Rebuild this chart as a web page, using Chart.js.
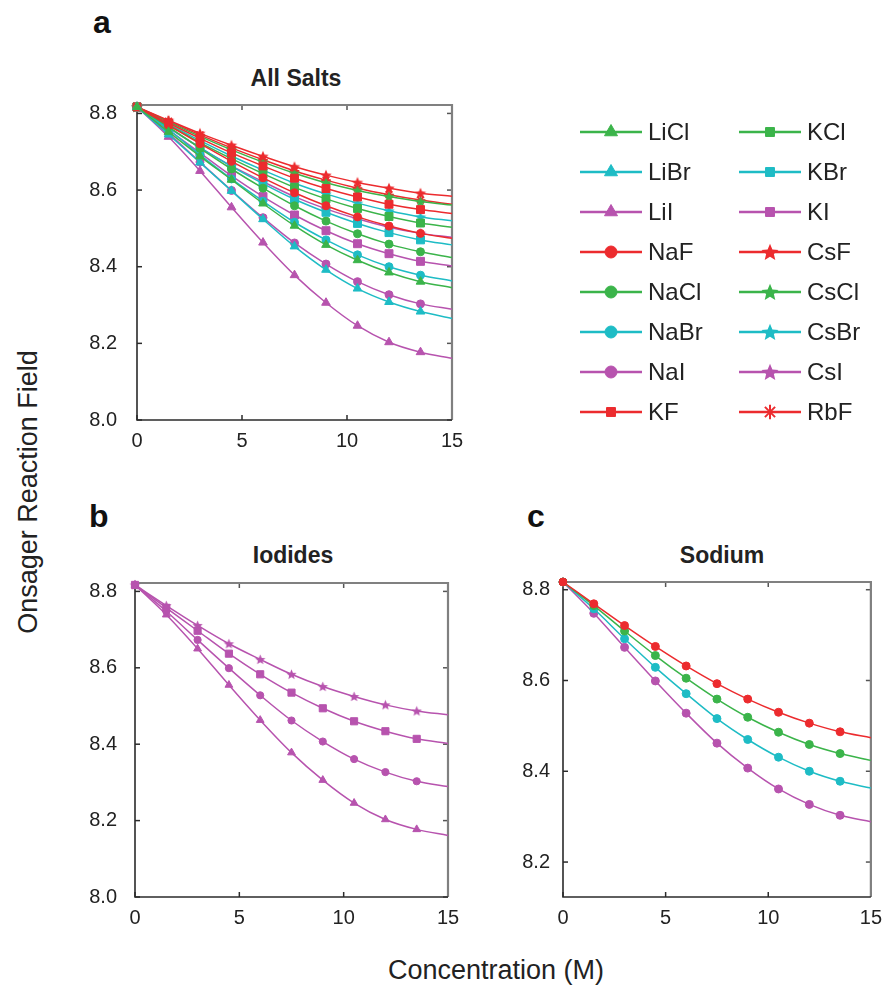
<!DOCTYPE html>
<html>
<head>
<meta charset="utf-8">
<script src="https://cdn.jsdelivr.net/npm/chart.js@4.4.1/dist/chart.umd.min.js"></script>
<style>
  html, body { margin: 0; padding: 0; background: #fff; }
  body {
    width: 891px; height: 990px; position: relative; overflow: hidden;
    font-family: "Liberation Sans", Arial, sans-serif; color: #222;
  }
  canvas { position: absolute; }
  .abs { position: absolute; white-space: nowrap; line-height: 1; }
  .letter { font-weight: bold; font-size: 32px; color: #111; }
  .title { font-weight: bold; font-size: 23px; transform: translate(-50%, -50%); }
  .axis-title { font-size: 27px; transform: translate(-50%, -50%); }
</style>
</head>
<body>
<div class="abs letter" style="left:93px; top:6px;">a</div>
<div class="abs letter" style="left:89px; top:500px;">b</div>
<div class="abs letter" style="left:527px; top:500px;">c</div>
<div class="abs title" style="left:296px; top:78px;">All Salts</div>
<div class="abs title" style="left:293px; top:555px;">Iodides</div>
<div class="abs title" style="left:722px; top:555px;">Sodium</div>
<div class="abs axis-title" style="left:28px; top:492px; transform:translate(-50%,-50%) rotate(-90deg);">Onsager Reaction Field</div>
<div class="abs axis-title" style="left:496px; top:970px;">Concentration (M)</div>

<canvas id="chart-all" width="891" height="470" style="left:0; top:0;"></canvas>
<canvas id="chart-iodides" width="470" height="460" style="left:0; top:480px;"></canvas>
<canvas id="chart-sodium" width="421" height="460" style="left:470px; top:480px;"></canvas>

<script>
// concentration (M) at which each curve was sampled
const concentration = [0, 1.5, 3, 4.5, 6, 7.5, 9, 10.5, 12, 13.5, 15];
const xTicks = [0, 5, 10, 15];
const yTicksFull = [8.0, 8.2, 8.4, 8.6, 8.8];
const yTicksSodium = [8.2, 8.4, 8.6, 8.8];

// Onsager reaction field per salt
const liCl = [8.817, 8.752, 8.688, 8.627, 8.565, 8.507, 8.457, 8.417, 8.385, 8.361, 8.345];
const liBr = [8.817, 8.745, 8.672, 8.598, 8.524, 8.453, 8.392, 8.343, 8.308, 8.283, 8.265];
const liI = [8.817, 8.739, 8.650, 8.555, 8.463, 8.378, 8.306, 8.246, 8.203, 8.177, 8.161];
const naF = [8.817, 8.769, 8.721, 8.675, 8.632, 8.593, 8.559, 8.530, 8.506, 8.487, 8.474];
const naCl = [8.817, 8.765, 8.709, 8.655, 8.605, 8.559, 8.519, 8.486, 8.459, 8.439, 8.424];
const naBr = [8.817, 8.758, 8.692, 8.629, 8.571, 8.516, 8.470, 8.431, 8.400, 8.378, 8.363];
const naI = [8.817, 8.748, 8.673, 8.599, 8.528, 8.462, 8.407, 8.361, 8.327, 8.303, 8.289];
const kF = [8.817, 8.775, 8.735, 8.697, 8.663, 8.631, 8.604, 8.582, 8.563, 8.549, 8.539];
const kCl = [8.817, 8.770, 8.724, 8.682, 8.643, 8.607, 8.577, 8.552, 8.531, 8.514, 8.503];
const kBr = [8.817, 8.763, 8.711, 8.662, 8.617, 8.576, 8.542, 8.513, 8.489, 8.470, 8.457];
const kI = [8.817, 8.757, 8.697, 8.637, 8.583, 8.535, 8.494, 8.460, 8.434, 8.414, 8.402];
const csF = [8.817, 8.782, 8.748, 8.717, 8.688, 8.661, 8.639, 8.620, 8.605, 8.592, 8.584];
const csCl = [8.817, 8.778, 8.740, 8.705, 8.673, 8.644, 8.619, 8.599, 8.583, 8.570, 8.561];
const csBr = [8.817, 8.772, 8.729, 8.689, 8.652, 8.618, 8.590, 8.566, 8.546, 8.530, 8.520];
const csI = [8.817, 8.763, 8.711, 8.663, 8.622, 8.583, 8.551, 8.525, 8.503, 8.487, 8.477];
const rbF = [8.817, 8.780, 8.744, 8.710, 8.679, 8.650, 8.626, 8.605, 8.588, 8.574, 8.563];

const saltNames = ["LiCl", "LiBr", "LiI", "NaF", "NaCl", "NaBr", "NaI", "KF",
                   "KCl", "KBr", "KI", "CsF", "CsCl", "CsBr", "CsI", "RbF"];
const saltValues = {
  LiCl: liCl, LiBr: liBr, LiI: liI, NaF: naF, NaCl: naCl, NaBr: naBr, NaI: naI, KF: kF,
  KCl: kCl, KBr: kBr, KI: kI, CsF: csF, CsCl: csCl, CsBr: csBr, CsI: csI, RbF: rbF,
};
const iodideNames = ["CsI", "KI", "NaI", "LiI"];
const sodiumNames = ["NaF", "NaCl", "NaBr", "NaI"];

const halideColors = { F: "#ec2b2e", Cl: "#3bb44a", Br: "#1ebcc5", I: "#b753ae" };
const cationMarkers = { Li: "triangle", Na: "circle", K: "rect", Cs: "star5", Rb: "star" };

function splitSalt(name) {
  const m = name.match(/^([A-Z][a-z]?)(.+)$/);
  return { cation: m[1], anion: m[2] };
}

const starCache = {};
function starImage(color, r) {
  const key = color + r;
  if (starCache[key]) {
    return starCache[key];
  }
  const c = document.createElement("canvas");
  const size = Math.ceil(r * 2 + 2);
  c.width = size;
  c.height = size;
  const g = c.getContext("2d");
  g.fillStyle = color;
  g.beginPath();
  for (let k = 0; k < 10; k++) {
    const ang = -Math.PI / 2 + (k * Math.PI) / 5;
    const rr = k % 2 ? r * 0.45 : r;
    g.lineTo(size / 2 + rr * Math.cos(ang), size / 2 + rr * Math.sin(ang) + r * 0.08);
  }
  g.closePath();
  g.fill();
  starCache[key] = c;
  return c;
}

function markerStyle(name, radius, rectScale = 1.4) {
  const { cation, anion } = splitSalt(name);
  const color = halideColors[anion];
  const marker = cationMarkers[cation];
  if (marker === "star5") {
    return { color, pointStyle: starImage(color, radius * 1.5), radius };
  }
  if (marker === "triangle") {
    return { color, pointStyle: "triangle", radius: radius * 1.25 };
  }
  if (marker === "star") {
    return { color, pointStyle: "star", radius: radius * 1.2 };
  }
  if (marker === "rect") {
    return { color, pointStyle: "rect", radius: radius * rectScale };
  }
  return { color, pointStyle: "circle", radius };
}

function makeDataset(name, radius) {
  const style = markerStyle(name, radius);
  const values = saltValues[name];
  const last = concentration.length - 1;
  return {
    label: name,
    data: concentration.map((c, i) => ({ x: c, y: values[i] })),
    borderColor: style.color,
    backgroundColor: style.color,
    borderWidth: 1.5,
    pointStyle: style.pointStyle,
    pointRadius: (ctx) => (ctx.dataIndex === last ? 0 : style.radius),
    pointBorderWidth: style.pointStyle === "star" ? 1.6 : 1,
    cubicInterpolationMode: "monotone",
    clip: false,
  };
}

// box, inward tick marks on all four sides
const framePlugin = {
  id: "frame",
  beforeDatasetsDraw(chart) {
    const { ctx, chartArea: a } = chart;
    const xs = chart.scales.x;
    const ys = chart.scales.y;
    const len = 5;
    ctx.save();
    ctx.lineWidth = 1.5;
    xs.ticks.forEach((t) => {
      const px = xs.getPixelForValue(t.value);
      ctx.strokeStyle = "#2b2b2b";
      ctx.beginPath();
      ctx.moveTo(px, a.bottom);
      ctx.lineTo(px, a.bottom - len);
      ctx.stroke();
      ctx.strokeStyle = "#555";
      ctx.beginPath();
      ctx.moveTo(px, a.top);
      ctx.lineTo(px, a.top + len);
      ctx.stroke();
    });
    ys.ticks.forEach((t) => {
      const py = ys.getPixelForValue(t.value);
      ctx.strokeStyle = "#2b2b2b";
      ctx.beginPath();
      ctx.moveTo(a.left, py);
      ctx.lineTo(a.left + len, py);
      ctx.stroke();
      ctx.strokeStyle = "#555";
      ctx.beginPath();
      ctx.moveTo(a.right, py);
      ctx.lineTo(a.right - len, py);
      ctx.stroke();
    });
    ctx.lineWidth = 2.2;
    ctx.strokeStyle = "#808080";
    ctx.beginPath();
    ctx.moveTo(a.left, a.top);
    ctx.lineTo(a.right, a.top);
    ctx.lineTo(a.right, a.bottom);
    ctx.stroke();
    ctx.lineWidth = 1.6;
    ctx.strokeStyle = "#2b2b2b";
    ctx.beginPath();
    ctx.moveTo(a.left, a.top);
    ctx.lineTo(a.left, a.bottom);
    ctx.lineTo(a.right, a.bottom);
    ctx.stroke();
    ctx.restore();
  },
};

// two-column legend to the right of panel a
const saltLegendPlugin = {
  id: "saltLegend",
  afterDraw(chart) {
    const ctx = chart.ctx;
    ctx.save();
    saltNames.forEach((name, i) => {
      const col = Math.floor(i / 8);
      const row = i % 8;
      const x0 = col ? 739 : 580;
      const y = 132 + row * 40;
      const style = markerStyle(name, 6, 1.05);
      ctx.strokeStyle = style.color;
      ctx.fillStyle = style.color;
      ctx.lineWidth = 2.4;
      ctx.beginPath();
      ctx.moveTo(x0, y);
      ctx.lineTo(x0 + 62, y);
      ctx.stroke();
      ctx.lineWidth = style.pointStyle === "star" ? 2 : 1;
      Chart.helpers.drawPoint(ctx, {
        pointStyle: style.pointStyle,
        radius: style.radius,
        rotation: 0,
        borderWidth: ctx.lineWidth,
      }, x0 + 31, y);
      ctx.fillStyle = "#222";
      ctx.font = '24px "Liberation Sans", Arial, sans-serif';
      ctx.textAlign = "left";
      ctx.textBaseline = "middle";
      ctx.fillText(name, x0 + 68, y + 1);
    });
    ctx.restore();
  },
};

function buildOptions(yMin, yMax, yTicks, pad, labelGap) {
  const tickFont = { family: '"Liberation Sans", Arial, sans-serif', size: 20 };
  return {
    responsive: false,
    animation: false,
    events: [],
    layout: { padding: pad },
    plugins: { legend: { display: false }, tooltip: { enabled: false }, title: { display: false } },
    scales: {
      x: {
        type: "linear",
        min: 0,
        max: 15,
        afterBuildTicks: (s) => { s.ticks = xTicks.map((v) => ({ value: v })); },
        afterFit: (s) => { s.height = 40; },
        ticks: { color: "#222", font: tickFont, padding: 9, maxRotation: 0,
                 callback: (v) => String(v) },
        grid: { display: false, drawTicks: false },
        border: { display: false },
      },
      y: {
        min: yMin,
        max: yMax,
        afterBuildTicks: (s) => { s.ticks = yTicks.map((v) => ({ value: v })); },
        afterFit: (s) => { s.width = 60; },
        ticks: { color: "#222", font: tickFont, padding: labelGap,
                 callback: (v) => Number(v).toFixed(1) },
        grid: { display: false, drawTicks: false },
        border: { display: false },
      },
    },
  };
}

new Chart(document.getElementById("chart-all"), {
  type: "line",
  data: { datasets: saltNames.map((n) => makeDataset(n, 4)) },
  options: buildOptions(8.0, 8.822, yTicksFull,
    { left: 77, right: 439, top: 105, bottom: 10 }, 20),
  plugins: [framePlugin, saltLegendPlugin],
});

new Chart(document.getElementById("chart-iodides"), {
  type: "line",
  data: { datasets: iodideNames.map((n) => makeDataset(n, 3.6)) },
  options: buildOptions(8.0, 8.822, yTicksFull,
    { left: 75, right: 22, top: 103, bottom: 3 }, 18),
  plugins: [framePlugin],
});

new Chart(document.getElementById("chart-sodium"), {
  type: "line",
  data: { datasets: sodiumNames.map((n) => makeDataset(n, 4)) },
  options: buildOptions(8.123, 8.817, yTicksSodium,
    { left: 33, right: 11, top: 102, bottom: 3 }, 13),
  plugins: [framePlugin],
});
</script>
</body>
</html>
